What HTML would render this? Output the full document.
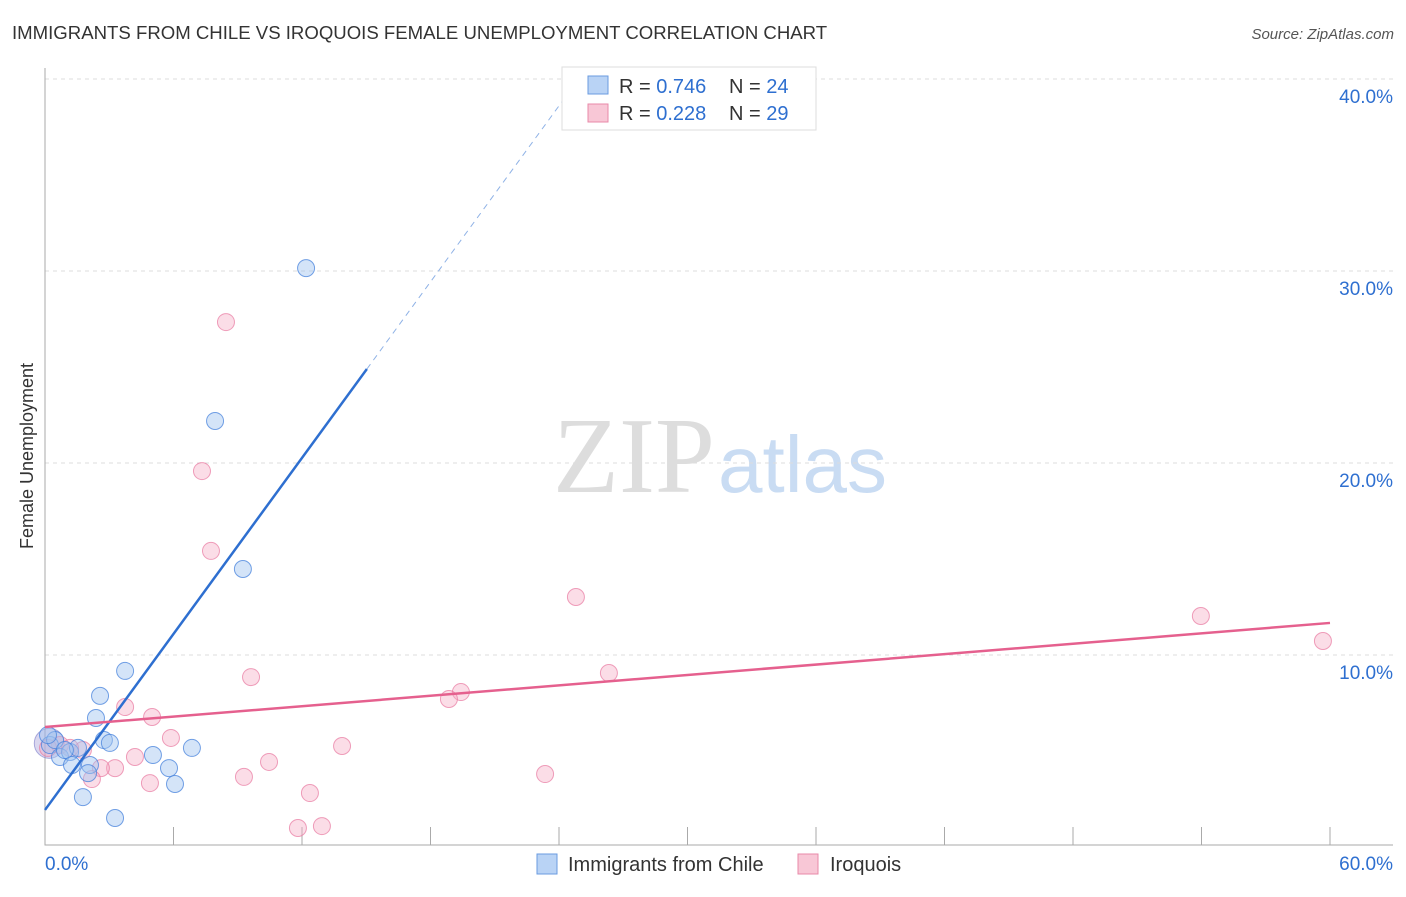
<!DOCTYPE html>
<html><head><meta charset="utf-8"><style>
body{margin:0;background:#fff;font-family:"Liberation Sans",sans-serif}
</style></head><body>
<svg width="1406" height="892" xmlns="http://www.w3.org/2000/svg" font-family="Liberation Sans, sans-serif">
<text x="12" y="39" font-size="18.6" fill="#333">IMMIGRANTS FROM CHILE VS IROQUOIS FEMALE UNEMPLOYMENT CORRELATION CHART</text>
<text x="1394" y="39" font-size="15" fill="#555" font-style="italic" text-anchor="end">Source: ZipAtlas.com</text>
<text x="33" y="456" font-size="18" fill="#333" text-anchor="middle" transform="rotate(-90 33 456)">Female Unemployment</text>
<text x="553" y="492" font-size="108" fill="#ddd" font-family="Liberation Serif, serif">ZIP</text>
<text x="718" y="492" font-size="80" fill="#c9dcf3">atlas</text>
<g id="grid"></g><g id="axes"></g><g id="marks"></g>
<g>
<rect x="562" y="67" width="254" height="63" fill="#fff" stroke="#ddd"/>
<rect x="588" y="76" width="20" height="18" fill="#b9d3f5" stroke="#6a9be0"/>
<rect x="588" y="104" width="20" height="18" fill="#f8c7d6" stroke="#e88aa8"/>
<text x="619" y="93" font-size="20" fill="#333">R = <tspan fill="#2e6fd0">0.746</tspan></text>
<text x="729" y="93" font-size="20" fill="#333">N = <tspan fill="#2e6fd0">24</tspan></text>
<text x="619" y="120" font-size="20" fill="#333">R = <tspan fill="#2e6fd0">0.228</tspan></text>
<text x="729" y="120" font-size="20" fill="#333">N = <tspan fill="#2e6fd0">29</tspan></text>
</g>
<g>
<rect x="537" y="854" width="20" height="20" fill="#b9d3f5" stroke="#6a9be0"/>
<text x="568" y="871" font-size="20" fill="#333">Immigrants from Chile</text>
<rect x="798" y="854" width="20" height="20" fill="#f8c7d6" stroke="#e88aa8"/>
<text x="830" y="871" font-size="20" fill="#333">Iroquois</text>
</g>
</svg>
<script>
const yTicks=[10,20,30,40];
const yTickLabels=["10.0%","20.0%","30.0%","40.0%"];
const xLabels=["0.0%","60.0%"];
const chileX=[12.19,7.94,9.24,3.74,2.57,2.38,2.75,3.03,5.04,6.86,5.79,6.07,1.77,3.27,0.23,0.47,0.70,1.17,1.54,1.26,2.10,2.01,0.14,0.93];
const chileY=[30.15,22.19,14.48,9.17,7.87,6.72,5.57,5.42,4.79,5.16,4.11,3.28,2.60,1.51,5.31,5.57,4.69,4.95,5.16,4.27,4.27,3.85,5.83,5.05];
const iroX=[8.45,7.33,7.75,24.79,53.97,59.67,9.62,26.33,19.42,18.86,3.74,5.00,5.88,13.87,4.20,10.46,3.27,2.61,9.29,23.35,4.90,2.19,12.37,11.81,12.93,1.77,0.70,0.14,1.17];
const iroY=[27.34,19.58,15.42,13.02,12.03,10.73,8.85,9.06,8.07,7.71,7.29,6.77,5.68,5.26,4.69,4.43,4.11,4.11,3.65,3.80,3.33,3.54,2.81,0.99,1.09,5.05,5.31,5.16,5.16];
const chileFit=[1.93,1.528];
const iroFit=[6.25,11.67];
const NS='http://www.w3.org/2000/svg';
const X=v=>45+v/60*1285, Y=v=>847-v/10*192;
function mk(t,a,p){const e=document.createElementNS(NS,t);for(const k in a)e.setAttribute(k,a[k]);document.getElementById(p).appendChild(e);return e;}
yTicks.forEach((t,i)=>{
 let l=mk('line',{x1:45,x2:1393,y1:Y(t),y2:Y(t),stroke:'#ddd','stroke-dasharray':'4,4'},'grid');
 
 
 let tx=mk('text',{x:1393,y:Y(t)+24,'font-size':19,fill:'#2e6fd0','text-anchor':'end'},'grid');
 tx.textContent=yTickLabels[i];
 
 
});
let ax=mk('path',{d:'M45 68V845H1393',stroke:'#aaa',fill:'none'},'axes');


for(let i=1;i<=10;i++){let t=mk('line',{x1:X(i*6),x2:X(i*6),y1:827,y2:845,stroke:'#aaa'},'axes');
 
 }
[[0,'start',45],[60,'end',1393]].forEach((d,i)=>{let t=mk('text',{x:d[2],y:870,'font-size':19,fill:'#2e6fd0','text-anchor':d[1]},'axes');t.textContent=xLabels[i];
 
 });
let big=mk('circle',{cx:X(0.2),cy:Y(5.4),r:15,fill:'rgba(150,140,210,0.35)',stroke:'rgba(120,120,200,0.6)'},'marks');


iroX.forEach((x,i)=>{let c=mk('circle',{cx:X(x),cy:Y(iroY[i]),r:8.5,fill:'rgba(245,170,195,0.4)',stroke:'rgba(232,120,160,0.7)'},'marks');
 
 });
chileX.forEach((x,i)=>{let c=mk('circle',{cx:X(x),cy:Y(chileY[i]),r:8.5,fill:'rgba(160,195,240,0.45)',stroke:'rgba(70,130,220,0.75)'},'marks');
 
 });
const cy=x=>chileFit[0]+chileFit[1]*x;
let s=mk('line',{x1:X(0),y1:Y(cy(0)),x2:X(15.03),y2:Y(cy(15.03)),stroke:'#2e6fd0','stroke-width':2.5},'marks');


let d=mk('line',{x1:X(15.03),y1:Y(cy(15.03)),x2:X(24.7),y2:Y(cy(24.7)),stroke:'#8fb2e6','stroke-width':1,'stroke-dasharray':'6,5'},'marks');


let p=mk('line',{x1:X(0),y1:Y(iroFit[0]),x2:X(60),y2:Y(iroFit[1]),stroke:'#e5608e','stroke-width':2.5},'marks');


</script>
</body></html>
